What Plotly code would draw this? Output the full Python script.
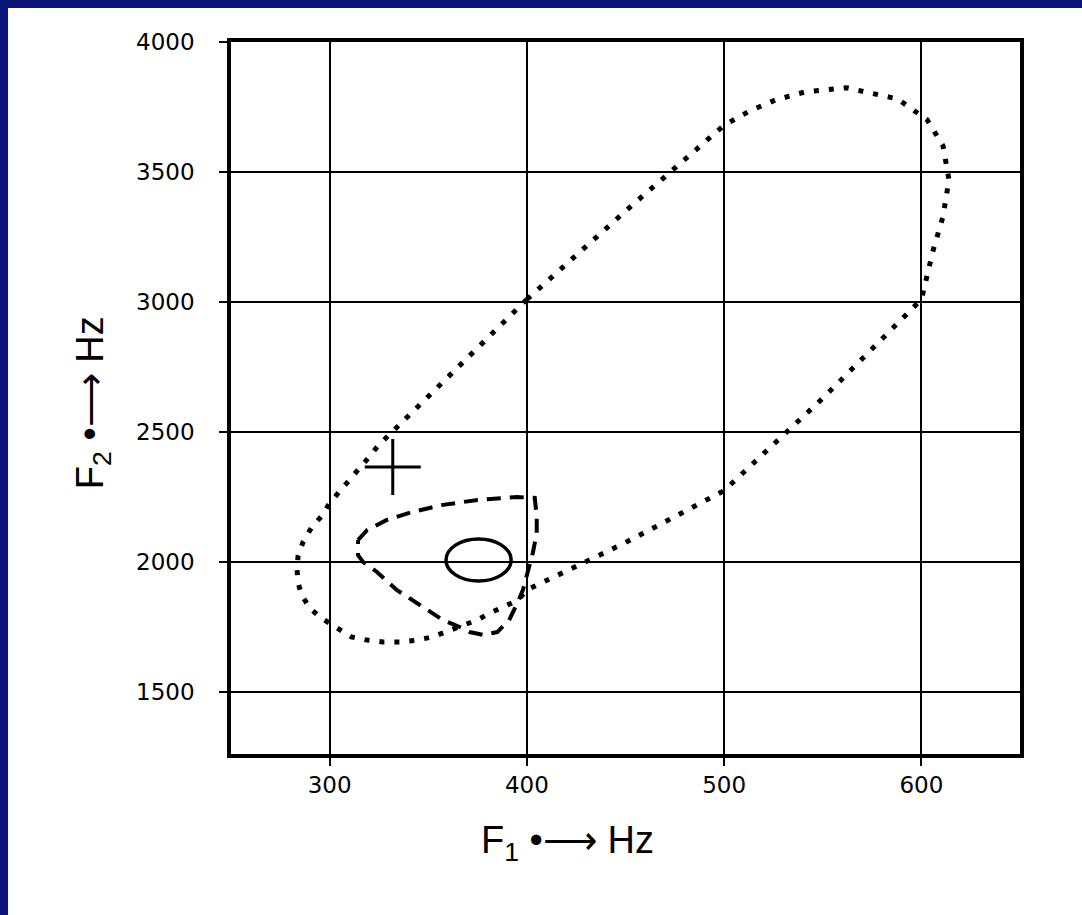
import plotly.graph_objects as go

# Outer dotted boundary (F1, F2 in Hz), traced clockwise and closed
dotted_f1 = [400, 450, 500, 513, 526, 541, 562, 588, 603, 611, 614, 611, 606, 600,
             550, 500, 450, 400, 395.5, 387.4, 381.3, 374.7, 358.5, 352, 344.3, 335.7,
             327, 319, 311, 305, 295, 290, 286, 284, 283.5, 284, 286.5, 291, 296, 300,
             305, 310, 315, 320, 324.5, 400]
dotted_f2 = [3010, 3350, 3680, 3735, 3777, 3808, 3824, 3781, 3700, 3600, 3470, 3330, 3200, 3010,
             2630, 2275, 2075, 1893, 1854, 1827, 1804, 1777, 1727, 1712, 1700, 1693,
             1693, 1700, 1712, 1739, 1789, 1823, 1870, 1920, 1970, 2024, 2077, 2135, 2177, 2227,
             2270, 2312, 2358, 2404, 2447, 3010]

# Dashed boundary
dashed_f1 = [314.4, 319, 329, 342, 357.5, 375, 395, 404, 405, 405, 403, 400, 398, 395.5,
             391, 385, 378, 371, 367, 357.5, 346, 334, 324, 317, 314.4, 314.4]
dashed_f2 = [2085, 2123, 2162, 2193, 2220, 2239, 2250, 2247, 2174, 2112, 2035, 1958, 1893, 1847,
             1777, 1731, 1720, 1731, 1747, 1777, 1835, 1893, 1962, 2000, 2027, 2085]

# Small solid ellipse: centre and half-extents (Hz)
ellipse_f1, ellipse_f2 = 375.5, 2008
ellipse_half_f1, ellipse_half_f2 = 16.5, 81

# Cross marker
cross_f1 = [332]
cross_f2 = [2366]

x_ticks = [300, 400, 500, 600]
y_ticks = [1500, 2000, 2500, 3000, 3500, 4000]

NAVY = "#0b1577"
FONT = "DejaVu Sans"

fig = go.Figure()

fig.add_trace(go.Scatter(
    x=dotted_f1, y=dotted_f2, mode="lines",
    line=dict(color="black", width=5, dash="5px,10px"),
    hoverinfo="skip", showlegend=False))

fig.add_trace(go.Scatter(
    x=dashed_f1, y=dashed_f2, mode="lines",
    line=dict(color="black", width=4, dash="14px,9px"),
    hoverinfo="skip", showlegend=False))

fig.add_trace(go.Scatter(
    x=cross_f1, y=cross_f2, mode="markers",
    marker=dict(symbol="cross-thin", size=40, line=dict(color="black", width=3)),
    hoverinfo="skip", showlegend=False))

fig.add_shape(type="circle", xref="x", yref="y",
              x0=ellipse_f1 - ellipse_half_f1, x1=ellipse_f1 + ellipse_half_f1,
              y0=ellipse_f2 - ellipse_half_f2, y1=ellipse_f2 + ellipse_half_f2,
              line=dict(color="black", width=3.5))

# Page frame bands (top and left)
fig.add_shape(type="rect", xref="paper", yref="paper", x0=-0.4, x1=1.2, y0=1.0478, y1=1.1,
              fillcolor=NAVY, line_width=0, layer="above")
fig.add_shape(type="rect", xref="paper", yref="paper", x0=-0.4, x1=-0.2826, y0=-0.4, y1=1.1,
              fillcolor=NAVY, line_width=0, layer="above")

axis_common = dict(
    showgrid=True, gridcolor="black", gridwidth=2,
    showline=True, linecolor="black", linewidth=3.5, mirror=True,
    ticks="outside", ticklen=8, tickwidth=2, tickcolor="black",
    zeroline=False, tickfont=dict(family=FONT, size=23, color="black"),
)

fig.update_xaxes(range=[250, 650], tickvals=x_ticks, ticktext=[str(v) for v in x_ticks],
                 ticklabelstandoff=0, **axis_common)
fig.update_yaxes(range=[1262, 4000], tickvals=y_ticks, ticktext=[str(v) for v in y_ticks],
                 ticklabelstandoff=20, **axis_common)

fig.add_annotation(xref="paper", yref="paper", x=0.426, y=-0.125,
                   text="F<sub>1</sub> •⟶ Hz", showarrow=False,
                   font=dict(family="Liberation Sans", size=38, color="black"),
                   xanchor="center", yanchor="middle")
fig.add_annotation(xref="paper", yref="paper", x=-0.175, y=0.494,
                   text="F<sub>2</sub> •⟶ Hz", showarrow=False, textangle=-90,
                   font=dict(family="Liberation Sans", size=38, color="black"),
                   xanchor="center", yanchor="middle")

fig.update_layout(
    width=1082, height=915,
    margin=dict(l=231, r=62, t=42, b=161),
    paper_bgcolor="white", plot_bgcolor="white",
    showlegend=False,
)

fig.write_html("out.html")
